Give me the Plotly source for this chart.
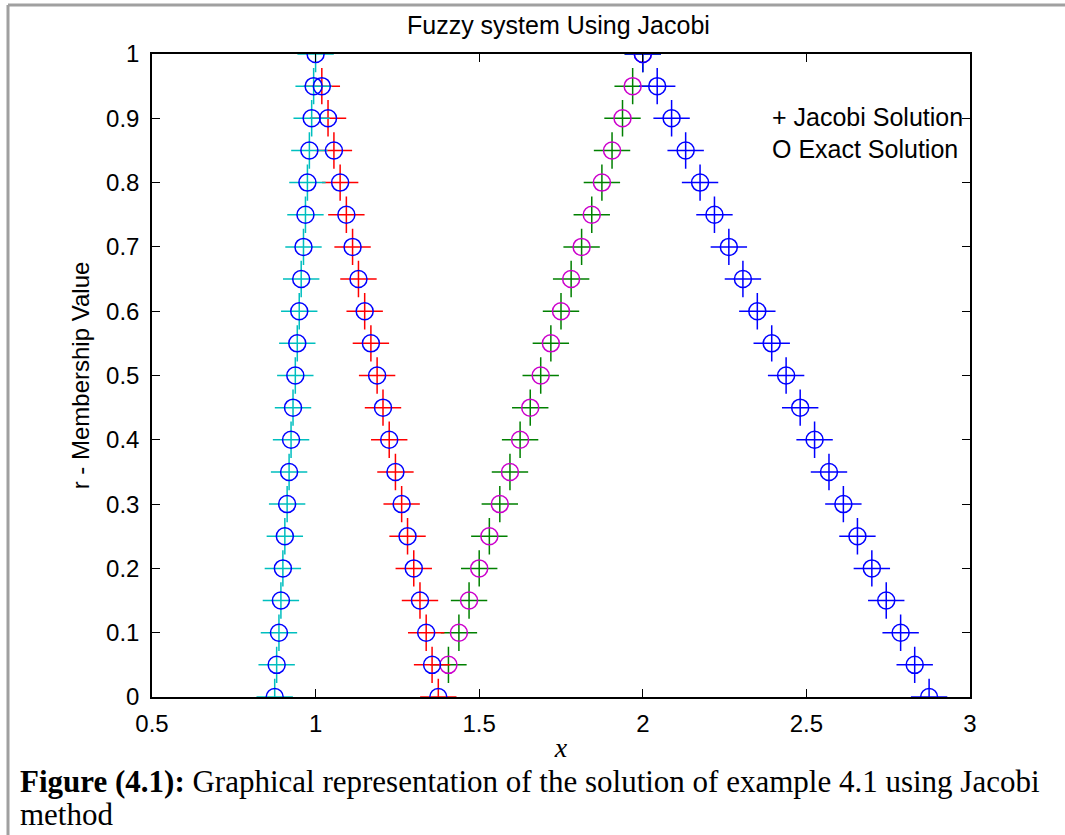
import plotly.graph_objects as go

# ---- data ----
y_b1 = [0, 0.05, 0.1, 0.15, 0.2, 0.25, 0.3, 0.35, 0.4, 0.45, 0.5, 0.55, 0.6, 0.65, 0.7, 0.75, 0.8, 0.85, 0.9, 0.95, 1.0]
x_b1 = [0.875, 0.881, 0.888, 0.894, 0.9, 0.906, 0.913, 0.919, 0.925, 0.931, 0.938, 0.944, 0.95, 0.956, 0.963, 0.969, 0.975, 0.981, 0.988, 0.994, 1.0]

y_b2 = [0, 0.05, 0.1, 0.15, 0.2, 0.25, 0.3, 0.35, 0.4, 0.45, 0.5, 0.55, 0.6, 0.65, 0.7, 0.75, 0.8, 0.85, 0.9, 0.95]
x_b2 = [1.375, 1.356, 1.338, 1.319, 1.3, 1.281, 1.263, 1.244, 1.225, 1.206, 1.188, 1.169, 1.15, 1.131, 1.113, 1.094, 1.075, 1.056, 1.038, 1.019]

y_b3 = [0.05, 0.1, 0.15, 0.2, 0.25, 0.3, 0.35, 0.4, 0.45, 0.5, 0.55, 0.6, 0.65, 0.7, 0.75, 0.8, 0.85, 0.9, 0.95, 1.0]
x_b3 = [1.406, 1.438, 1.469, 1.5, 1.531, 1.563, 1.594, 1.625, 1.656, 1.688, 1.719, 1.75, 1.781, 1.813, 1.844, 1.875, 1.906, 1.938, 1.969, 2.0]

y_b4 = [0, 0.05, 0.1, 0.15, 0.2, 0.25, 0.3, 0.35, 0.4, 0.45, 0.5, 0.55, 0.6, 0.65, 0.7, 0.75, 0.8, 0.85, 0.9, 0.95, 1.0]
x_b4 = [2.875, 2.831, 2.788, 2.744, 2.7, 2.656, 2.613, 2.569, 2.525, 2.481, 2.438, 2.394, 2.35, 2.306, 2.263, 2.219, 2.175, 2.131, 2.088, 2.044, 2.0]

x_ticks = [0.5, 1, 1.5, 2, 2.5, 3]
x_tick_labels = ["0.5", "1", "1.5", "2", "2.5", "3"]
y_ticks = [0, 0.1, 0.2, 0.3, 0.4, 0.5, 0.6, 0.7, 0.8, 0.9, 1.0]
y_tick_labels = ["0", "0.1", "0.2", "0.3", "0.4", "0.5", "0.6", "0.7", "0.8", "0.9", "1"]

# ---- layout geometry ----
W, H = 1065, 835
L, R, T, B = 152, 970, 54, 697
pw, ph = R - L, B - T

def px(xp):
    return (xp - L) / pw

def py(yp):
    return (B - yp) / ph

SANS = "Liberation Sans, Arial"
SERIF = "Liberation Serif, Times New Roman"

fig = go.Figure()

cross_specs = [(x_b3, y_b3, "#008000"), (x_b2, y_b2, "#ff0000"),
               (x_b1, y_b1, "#00bfbf"), (x_b4, y_b4, "#0000ff")]
for xs, ys, c in cross_specs:
    fig.add_trace(go.Scatter(x=xs, y=ys, mode="markers", showlegend=False, hoverinfo="skip",
                             marker=dict(symbol="cross-thin-open", size=26, color=c,
                                         line=dict(color=c, width=1.5))))

circle_specs = [(x_b3, y_b3, "#cc00cc"), (x_b2, y_b2, "#0000ff"),
                (x_b1, y_b1, "#0000ff"), (x_b4, y_b4, "#0000ff")]
for xs, ys, c in circle_specs:
    fig.add_trace(go.Scatter(x=xs, y=ys, mode="markers", showlegend=False, hoverinfo="skip",
                             marker=dict(symbol="circle-open", size=17, color=c,
                                         line=dict(color=c, width=1.5))))

axis_common = dict(showline=True, linecolor="black", linewidth=1.5, mirror="ticks",
                   ticks="inside", ticklen=8, tickwidth=1, tickcolor="black",
                   showgrid=False, zeroline=False,
                   tickfont=dict(family=SANS, size=24, color="black"))

fig.update_xaxes(range=[0.5, 3], tickvals=x_ticks, ticktext=x_tick_labels, **axis_common,
                 ticklabelstandoff=4,
                 title=dict(text="<i>x</i>", font=dict(family=SERIF, size=28, color="black"),
                            standoff=2))
fig.update_yaxes(range=[0, 1], tickvals=y_ticks, ticktext=y_tick_labels, **axis_common,
                 ticklabelstandoff=6,
                 title=dict(text="r - Membership Value",
                            font=dict(family=SANS, size=24, color="black"),
                            standoff=10))

annotations = [
    dict(x=px(558), y=py(25), xref="paper", yref="paper",
         text="Fuzzy system Using Jacobi", showarrow=False, xanchor="center", yanchor="middle",
         font=dict(family=SANS, size=25, color="black")),
    dict(x=px(770), y=py(117), xref="paper", yref="paper", text="+ Jacobi Solution",
         showarrow=False, xanchor="left", yanchor="middle",
         font=dict(family=SANS, size=25, color="black")),
    dict(x=px(770), y=py(149), xref="paper", yref="paper", text="O Exact Solution",
         showarrow=False, xanchor="left", yanchor="middle",
         font=dict(family=SANS, size=25, color="black")),
    dict(x=px(18), y=py(781), xref="paper", yref="paper",
         text="<b>Figure (4.1):</b> Graphical representation of the solution of example 4.1 using Jacobi",
         showarrow=False, xanchor="left", yanchor="middle",
         font=dict(family=SERIF, size=31, color="black")),
    dict(x=px(18), y=py(814), xref="paper", yref="paper", text="method",
         showarrow=False, xanchor="left", yanchor="middle",
         font=dict(family=SERIF, size=31, color="black")),
]

shapes = [
    dict(type="line", xref="paper", yref="paper", x0=px(8), x1=px(1065), y0=py(5), y1=py(5),
         line=dict(color="#a0a0a0", width=3)),
    dict(type="line", xref="paper", yref="paper", x0=px(8), x1=px(8), y0=py(5), y1=py(835),
         line=dict(color="#a0a0a0", width=3)),
]

fig.update_layout(width=W, height=H, margin=dict(l=L, r=W - R, t=T, b=H - B),
                  paper_bgcolor="white", plot_bgcolor="white",
                  annotations=annotations, shapes=shapes, showlegend=False)

fig.write_html("out.html")
